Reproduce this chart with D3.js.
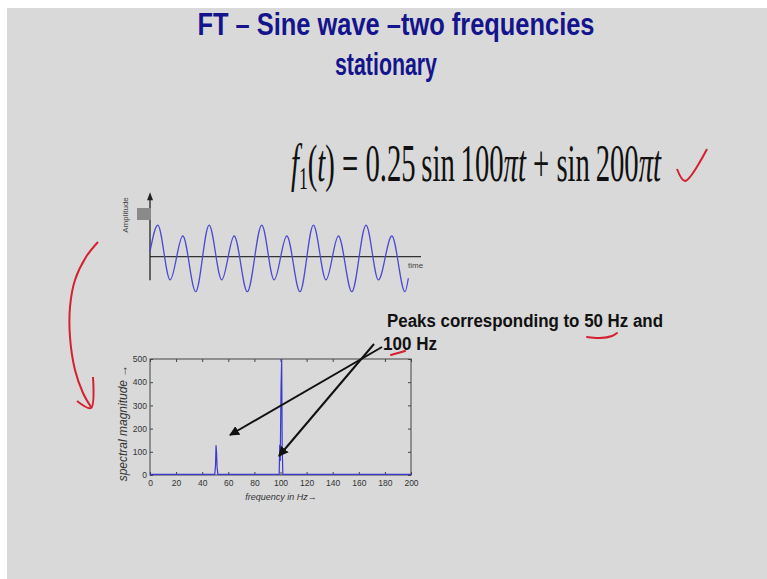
<!DOCTYPE html>
<html>
<head>
<meta charset="utf-8">
<script src="https://cdn.jsdelivr.net/npm/d3@7"></script>
<style>
  html, body { margin: 0; padding: 0; background: #ffffff; }
  svg { display: block; }
</style>
</head>
<body>
<svg id="slide"></svg>
<script>
const width = 767;
const height = 579;

// time signal: time of each crest / trough (ms) and its amplitude
const waveTime = [0, 3.0, 7.8, 12.7, 17.7, 22.9, 27.8, 32.6, 37.7, 43.3, 48.1, 53.0, 58.1, 63.3, 68.2, 73.0, 78.2, 83.7, 88.5, 93.7, 98.8, 100.1];
const waveAmp  = [0.18, 1.13, -0.83, 0.74, -1.25, 1.13, -0.83, 0.74, -1.25, 1.13, -0.83, 0.74, -1.25, 1.13, -0.83, 0.74, -1.25, 1.13, -0.83, 0.74, -1.25, -0.77];

// spectrum
const specFreq = [0, 49.6, 50.2, 50.6, 51.0, 51.4, 52.0, 99.0, 99.4, 99.8, 100.4, 100.9, 101.3, 101.8, 200];
const specMag  = [3, 3, 40, 128, 95, 35, 3, 3, 130, 60, 375, 500, 120, 3, 3];

const freqTicks = d3.range(0, 201, 20);
const magTicks = d3.range(0, 501, 100);

const svg = d3.select("#slide")
    .attr("width", width)
    .attr("height", height);

// slide background
svg.append("rect").attr("x", 7).attr("y", 8).attr("width", width - 7).attr("height", height - 8).attr("fill", "#d9d9d9");

// title
svg.append("text")
    .attr("x", 396).attr("y", 35)
    .attr("text-anchor", "middle")
    .attr("font-family", "Liberation Sans, Arial, sans-serif")
    .attr("font-weight", "bold").attr("font-size", 31)
    .attr("fill", "#14148c")
    .attr("textLength", 397).attr("lengthAdjust", "spacingAndGlyphs")
    .text("FT – Sine wave –two frequencies");
svg.append("text")
    .attr("x", 386).attr("y", 75)
    .attr("text-anchor", "middle")
    .attr("font-family", "Liberation Sans, Arial, sans-serif")
    .attr("font-weight", "bold").attr("font-size", 31)
    .attr("fill", "#14148c")
    .attr("textLength", 102).attr("lengthAdjust", "spacingAndGlyphs")
    .text("stationary");

// equation (slide is stretched vertically, so squeeze it to the width it has there)
const eq = svg.append("text")
    .attr("font-family", "Liberation Serif, Times New Roman, serif")
    .attr("font-size", 52)
    .attr("fill", "#111");
eq.append("tspan").attr("font-style", "italic").text("f");
eq.append("tspan").attr("font-size", 32).attr("dy", 8).text("1");
eq.append("tspan").attr("dy", -8).text("(");
eq.append("tspan").attr("font-style", "italic").text("t");
eq.append("tspan").text(") = 0.25\u2009sin\u2009100");
eq.append("tspan").attr("font-style", "italic").text("πt");
eq.append("tspan").text(" + sin\u2009200");
eq.append("tspan").attr("font-style", "italic").text("πt");
const eqW = eq.node().getBBox().width;
eq.attr("transform", `translate(291,181) scale(${371 / eqW},1)`);

// red pen marks
const pen = d3.line().curve(d3.curveCatmullRom);
const red = "#d42030";
svg.append("path").attr("d", pen([[677, 169], [685, 181], [707, 149]]))
    .attr("fill", "none").attr("stroke", red).attr("stroke-width", 2).attr("stroke-linejoin", "round");
svg.append("path").attr("d", pen([[98, 242], [86, 257], [75, 280], [70, 307], [70, 337], [75, 370], [83, 393], [91, 407]]))
    .attr("fill", "none").attr("stroke", red).attr("stroke-width", 2);
svg.append("path").attr("d", pen([[77, 401], [91, 408], [93, 377]]))
    .attr("fill", "none").attr("stroke", red).attr("stroke-width", 2).attr("stroke-linejoin", "round");

// ---- time signal ----
const tx = d3.scaleLinear().domain([0, 105]).range([150, 421]);
const ay = d3.scaleLinear().domain([-1.5, 1.5]).range([298.7, 214.7]);

svg.append("line")
    .attr("x1", tx(0)).attr("x2", tx(105))
    .attr("y1", ay(0)).attr("y2", ay(0))
    .attr("stroke", "#333").attr("stroke-width", 1.3);
svg.append("line")
    .attr("x1", tx(0)).attr("x2", tx(0))
    .attr("y1", ay(-0.84)).attr("y2", ay(2.2))
    .attr("stroke", "#222").attr("stroke-width", 1.3);
svg.append("path")
    .attr("d", `M${tx(0)},${ay(2.3)} l-3,8 l6,0 z`)
    .attr("fill", "#222");
svg.append("rect").attr("x", 137).attr("y", 208).attr("width", 14).attr("height", 12).attr("fill", "#8a8a8a");
svg.append("text")
    .attr("transform", `translate(128,215) rotate(-90)`)
    .attr("text-anchor", "middle")
    .attr("font-family", "Liberation Sans, Arial, sans-serif")
    .attr("font-size", 8).attr("fill", "#444")
    .text("Amplitude");
svg.append("text")
    .attr("x", 408).attr("y", 268)
    .attr("font-family", "Liberation Sans, Arial, sans-serif")
    .attr("font-size", 8).attr("fill", "#444")
    .text("time");

const wave = d3.line()
    .x((d, i) => tx(waveTime[i]))
    .y(d => ay(d))
    .curve(d3.curveMonotoneX);
svg.append("path")
    .attr("d", wave(waveAmp))
    .attr("fill", "none").attr("stroke", "#4a4ad2").attr("stroke-width", 1.3);

// ---- spectrum ----
const fx = d3.scaleLinear().domain([0, 200]).range([150, 411]);
const my = d3.scaleLinear().domain([0, 500]).range([475, 359]);
const tickFont = "Liberation Sans, Arial, sans-serif";

const styleAxis = g => {
    g.select(".domain").remove();
    g.selectAll("line").attr("stroke", "#444");
    g.selectAll("text").attr("font-family", tickFont).attr("font-size", 8.5).attr("fill", "#333");
};

svg.append("g").attr("transform", `translate(0,${my(0)})`)
    .call(d3.axisBottom(fx).tickValues(freqTicks).tickSizeInner(-3).tickSizeOuter(0).tickPadding(5))
    .call(styleAxis);
svg.append("g").attr("transform", `translate(0,${my(500)})`)
    .call(d3.axisTop(fx).tickValues(freqTicks).tickSizeInner(-3).tickSizeOuter(0).tickFormat(""))
    .call(styleAxis);
svg.append("g").attr("transform", `translate(${fx(0)},0)`)
    .call(d3.axisLeft(my).tickValues(magTicks).tickSizeInner(-3).tickSizeOuter(0).tickPadding(3))
    .call(styleAxis);
svg.append("g").attr("transform", `translate(${fx(200)},0)`)
    .call(d3.axisRight(my).tickValues(magTicks).tickSizeInner(-3).tickSizeOuter(0).tickFormat(""))
    .call(styleAxis);

svg.append("rect")
    .attr("x", fx(0)).attr("y", my(500))
    .attr("width", fx(200) - fx(0)).attr("height", my(0) - my(500))
    .attr("fill", "none").attr("stroke", "#444").attr("stroke-width", 1);

const spec = d3.line()
    .x((d, i) => fx(specFreq[i]))
    .y(d => my(d));
svg.append("path")
    .attr("d", spec(specMag))
    .attr("fill", "none").attr("stroke", "#3a3ad0").attr("stroke-width", 1.2);

svg.append("text")
    .attr("transform", `translate(127,423) rotate(-90)`)
    .attr("text-anchor", "middle")
    .attr("font-family", tickFont).attr("font-style", "italic")
    .attr("font-size", 12).attr("fill", "#333")
    .text("spectral magnitude →");
svg.append("text")
    .attr("x", 281).attr("y", 500)
    .attr("text-anchor", "middle")
    .attr("font-family", tickFont).attr("font-style", "italic")
    .attr("font-size", 9).attr("fill", "#333")
    .text("frequency  in Hz→");

// ---- annotation ----
const defs = svg.append("defs");
defs.append("marker")
    .attr("id", "head").attr("viewBox", "0 0 10 10")
    .attr("refX", 9).attr("refY", 5)
    .attr("markerWidth", 5).attr("markerHeight", 5)
    .attr("orient", "auto")
    .append("path").attr("d", "M0,0 L10,5 L0,10 z").attr("fill", "#111");

svg.append("line").attr("x1", 382).attr("y1", 347).attr("x2", 230).attr("y2", 435)
    .attr("stroke", "#111").attr("stroke-width", 2).attr("marker-end", "url(#head)");
svg.append("line").attr("x1", 374).attr("y1", 344).attr("x2", 279).attr("y2", 456)
    .attr("stroke", "#111").attr("stroke-width", 2).attr("marker-end", "url(#head)");

svg.append("text")
    .attr("x", 387).attr("y", 327)
    .attr("font-family", "Liberation Sans, Arial, sans-serif")
    .attr("font-weight", "bold").attr("font-size", 18).attr("fill", "#111")
    .attr("textLength", 276).attr("lengthAdjust", "spacingAndGlyphs")
    .text("Peaks corresponding to 50 Hz and");
svg.append("text")
    .attr("x", 383).attr("y", 350)
    .attr("font-family", "Liberation Sans, Arial, sans-serif")
    .attr("font-weight", "bold").attr("font-size", 18).attr("fill", "#111")
    .attr("textLength", 54).attr("lengthAdjust", "spacingAndGlyphs")
    .text("100 Hz");

svg.append("path").attr("d", pen([[587, 337], [600, 338], [612, 336], [617, 333]]))
    .attr("fill", "none").attr("stroke", red).attr("stroke-width", 2).attr("stroke-linecap", "round");
svg.append("path").attr("d", pen([[391, 355], [398, 353], [405, 351]]))
    .attr("fill", "none").attr("stroke", red).attr("stroke-width", 2.2).attr("stroke-linecap", "round");
</script>
</body>
</html>
